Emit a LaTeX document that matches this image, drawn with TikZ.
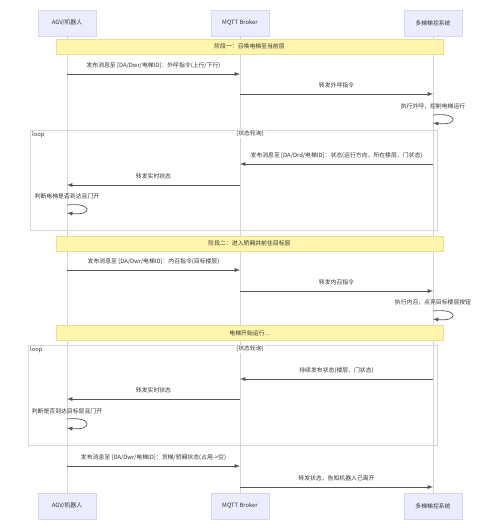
\documentclass[tikz,border=0pt]{standalone}
\usepackage{fontspec}
\setmainfont{Noto Sans CJK SC}
\usepackage{xcolor}
\usetikzlibrary{arrows}

\definecolor{actorfill}{HTML}{ECECFF}
\definecolor{actorline}{HTML}{D9D6F2}
\definecolor{notefill}{HTML}{FFF5AD}
\definecolor{noteline}{HTML}{E9DF95}
\definecolor{lifegray}{HTML}{D4D4D4}
\definecolor{msggray}{HTML}{555555}
\definecolor{framegray}{HTML}{D6D6D6}

\begin{document}
\begin{tikzpicture}[x=0.03cm, y=-0.03cm,
    every node/.style={font=\fontsize{5}{6}\selectfont, text=black!80, inner sep=0pt},
    actor/.style={draw=actorline, fill=actorfill, minimum width=1.74cm, minimum height=0.78cm},
    note/.style={draw=noteline, fill=notefill, minimum width=11.61cm, minimum height=0.45cm},
    life/.style={draw=lifegray, line width=0.5pt},
    frame/.style={draw=framegray, line width=0.5pt},
    msg/.style={draw=msggray, line width=0.6pt, -latex},
    lbl/.style={midway, above=0.16cm}]
    \useasboundingbox (0,0) rectangle (500,531);

    % Participants
    \node[actor] (agvT) at (67,23) {AGV/机器人};
    \node[actor] (brokerT) at (240,23) {MQTT Broker};
    \node[actor] (liftT) at (433,23) {多梯梯控系统};
    \node[actor] (agvB) at (67,506) {AGV/机器人};
    \node[actor] (brokerB) at (240,506) {MQTT Broker};
    \node[actor] (liftB) at (433,506) {多梯梯控系统};

    \draw[life] (agvT) -- (agvB);
    \draw[life] (brokerT) -- (brokerB);
    \draw[life] (liftT) -- (liftB);

    % Loop frames
    \draw[frame] (30,130) rectangle (437,230);
    \node[anchor=north west] (loop1) at (32,132) {loop};
    \node[fill=white, inner sep=1pt] (cond1) at (250,134) {[状态轮询]};
    \draw[frame] (28,345) rectangle (437,445);
    \node[anchor=north west] (loop2) at (30,347) {loop};
    \node[fill=white, inner sep=1pt] (cond2) at (250,349) {[状态轮询]};

    % Phase 1
    \node[note] (phase1) at (249.5,46.5) {阶段一：召唤电梯至当前层};
    \draw[msg] (agvT |- 0,74) -- (brokerT |- 0,74)
        node[lbl] (m1) {发布消息至 [DA/Dwr/电梯ID]：外呼指令(上行/下行)};
    \draw[msg] (brokerT |- 0,94) -- (liftT |- 0,94)
        node[lbl] (m2) {转发外呼指令};
    \node (m3) at (433,106) {执行外呼，控制电梯运行};
    \draw[msg] (liftT |- 0,115) .. controls +(26,-3) and +(26,3) .. (liftT |- 0,123);
    \draw[msg] (liftT |- 0,164) -- (brokerT |- 0,164)
        node[lbl] (m4) {发布消息至 [DA/Drd/电梯ID]：状态(运行方向，所在楼层，门状态)};
    \draw[msg] (brokerT |- 0,185) -- (agvT |- 0,185)
        node[lbl] (m5) {转发实时状态};
    \node (m6) at (67,196) {判断电梯是否到达且门开};
    \draw[msg] (agvT |- 0,205) .. controls +(26,-3) and +(26,3) .. (agvT |- 0,213);

    % Phase 2
    \node[note] (phase2) at (249.5,243.5) {阶段二：进入轿厢并前往目标层};
    \draw[msg] (agvT |- 0,270) -- (brokerT |- 0,270)
        node[lbl] (m7) {发布消息至 [DA/Dwr/电梯ID]：内召指令(目标楼层)};
    \draw[msg] (brokerT |- 0,291) -- (liftT |- 0,291)
        node[lbl] (m8) {转发内召指令};
    \node (m9) at (433,302) {执行内召，点亮目标楼层按钮};
    \draw[msg] (liftT |- 0,311) .. controls +(26,-3) and +(26,3) .. (liftT |- 0,319);

    \node[note] (running) at (249.5,333) {电梯开始运行...};
    \draw[msg] (liftT |- 0,379) -- (brokerT |- 0,379)
        node[lbl] (m10) {持续发布状态(楼层，门状态)};
    \draw[msg] (brokerT |- 0,399) -- (agvT |- 0,399)
        node[lbl] (m11) {转发实时状态};
    \node (m12) at (67,411) {判断是否到达目标层且门开};
    \draw[msg] (agvT |- 0,419) .. controls +(26,-3) and +(26,3) .. (agvT |- 0,428);

    % Leaving
    \draw[msg] (agvT |- 0,466) -- (brokerT |- 0,466)
        node[lbl] (m13) {发布消息至 [DA/Dwr/电梯ID]：货梯/轿厢状态(占用->空)};
    \draw[msg] (brokerT |- 0,487) -- (liftT |- 0,487)
        node[lbl] (m14) {转发状态，告知机器人已离开};
\end{tikzpicture}
\end{document}
